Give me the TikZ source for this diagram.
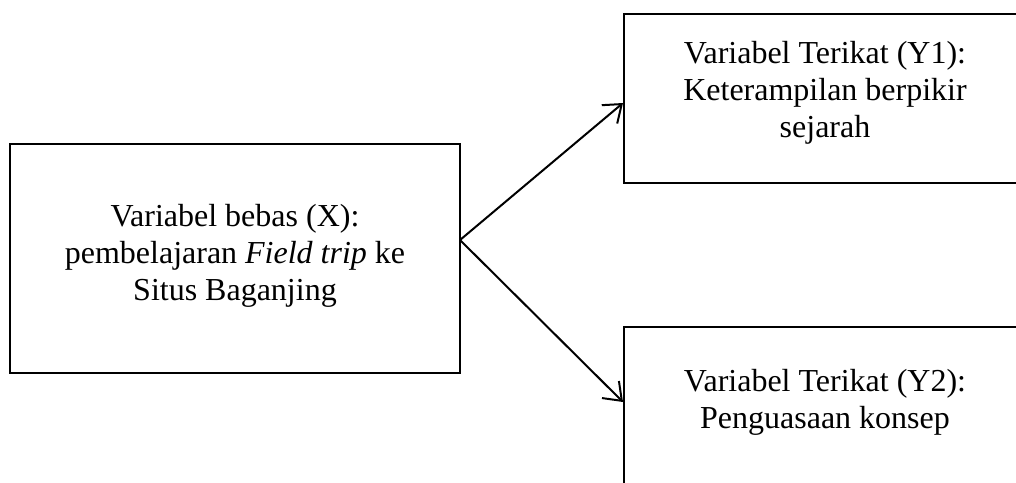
\documentclass[tikz,border=0pt]{standalone}
\usepackage{fontspec}
\setmainfont{Liberation Serif}
\usetikzlibrary{arrows.meta}
\usetikzlibrary{positioning}
\tikzset{varbox/.style = {draw, line width = 1pt, rectangle, inner sep = 0}}
\tikzset{vartext/.style = {align = center, font = \fontsize{16}{18.5}\selectfont}}
\tikzset{link/.style = {line width = 1pt, -{Straight Barb[length = 8pt, width = 12pt]}}}

\begin{document}
\begin{tikzpicture}[x = 0.5pt, y = -0.5pt]
      \clip (0, 0) rectangle (1016, 482);

      % boxes
      \node [varbox, minimum width = 225pt, minimum height = 114.5pt] (bx) at (235, 258.5) {};
      \node [varbox, minimum width = 201pt, minimum height = 84.5pt] (by1) at (825, 98.5) {};
      \node [varbox, minimum width = 201pt, minimum height = 100pt] (by2) at (825, 427) {};

      % texts
      \node [vartext] (tx) at (235, 256) {Variabel bebas (X):\\ pembelajaran \textit{Field trip} ke\\ Situs Baganjing};
      \node [vartext] (ty1) at (825, 93) {Variabel Terikat (Y1):\\ Keterampilan berpikir\\ sejarah};
      \node [vartext] (ty2) at (825, 402) {Variabel Terikat (Y2):\\ Penguasaan konsep};

      \coordinate (src) at (460, 240);
      \draw [link] (src) -- ([yshift = -2.25pt]by1.west);
      \draw [link] (src) -- ([yshift = -38pt]by2.north west);
    \end{tikzpicture}
\end{document}
